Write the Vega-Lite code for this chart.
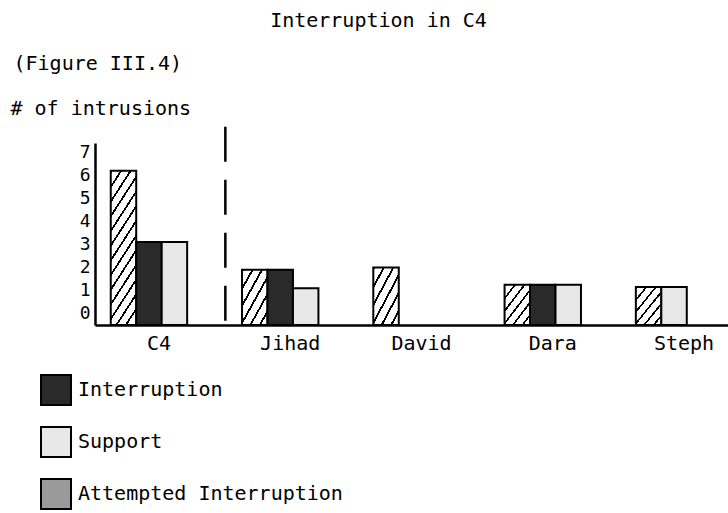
{
  "$schema": "https://vega.github.io/schema/vega-lite/v6.json",
  "width": 633,
  "height": 182,
  "autosize": {"type": "none"},
  "padding": {"left": 95, "top": 143, "right": 0, "bottom": 188},
  "background": "white",
  "title": {"text": "Interruption in C4", "anchor": "middle", "frame": "group", "dx": -33, "offset": 22, "font": "DejaVu Sans Mono", "fontSize": 20, "fontWeight": "normal", "color": "black"},
  "config": {"view": {"stroke": null}, "font": "DejaVu Sans Mono"},
  "layer": [
    {
      "data": {"values": [
        {"person": "C4", "type": "Attempted Interruption", "count": 6.2},
        {"person": "C4", "type": "Interruption", "count": 3.1},
        {"person": "C4", "type": "Support", "count": 3.1},
        {"person": "Jihad", "type": "Attempted Interruption", "count": 1.9},
        {"person": "Jihad", "type": "Interruption", "count": 1.9},
        {"person": "Jihad", "type": "Support", "count": 1.1},
        {"person": "David", "type": "Attempted Interruption", "count": 2.0},
        {"person": "Dara", "type": "Attempted Interruption", "count": 1.25},
        {"person": "Dara", "type": "Interruption", "count": 1.25},
        {"person": "Dara", "type": "Support", "count": 1.25},
        {"person": "Steph", "type": "Attempted Interruption", "count": 1.15},
        {"person": "Steph", "type": "Support", "count": 1.15}
      ]},
      "transform": [
        {"window": [{"op": "row_number", "as": "slot"}], "groupby": ["person"], "sort": [{"field": "type"}]}
      ],
      "mark": {"type": "bar", "stroke": "black", "strokeWidth": 2},
      "encoding": {
        "x": {
          "field": "person", "type": "nominal", "sort": null,
          "title": "(Figure III.4)",
          "scale": {"paddingInner": 0.418, "paddingOuter": 0.12},
          "axis": {"ticks": false, "labelAngle": 0, "domainWidth": 2.5, "domainColor": "black", "labelPadding": 8, "labelOffset": 10, "labelFont": "DejaVu Sans Mono", "labelFontSize": 20, "labelColor": "black", "titleX": -82, "titleY": -262, "titleAlign": "left", "titleBaseline": "middle", "titleAngle": 0, "titleFont": "DejaVu Sans Mono", "titleFontSize": 20, "titleFontWeight": "normal", "titleColor": "black"}
        },
        "xOffset": {"field": "slot", "type": "ordinal", "scale": {"domain": [1, 2, 3], "paddingInner": 0, "paddingOuter": 0}},
        "y": {
          "field": "count", "type": "quantitative",
          "title": "# of intrusions",
          "scale": {"domain": [-0.5, 7.4], "nice": false, "zero": false},
          "axis": {"values": [0, 1, 2, 3, 4, 5, 6, 7], "labelOverlap": false, "ticks": false, "grid": false, "domainColor": "black", "domainWidth": 2.5, "labelFont": "DejaVu Sans Mono", "labelFontSize": 18, "labelColor": "black", "labelPadding": 5, "titleAngle": 0, "titleAlign": "left", "titleBaseline": "middle", "titleX": -85, "titleY": -35, "titleFont": "DejaVu Sans Mono", "titleFontSize": 20, "titleFontWeight": "normal", "titleColor": "black"}
        },
        "y2": {"datum": -0.5},
        "fill": {
          "condition": [
            {"test": "datum.type === 'Attempted Interruption' && datum.count > 4", "value": {"gradient": "linear", "x1": 0, "y1": 0, "x2": 0.32, "y2": 1.25, "stops": [
              {"offset": 0, "color": "black"}, {"offset": 0.0157, "color": "black"}, {"offset": 0.0157, "color": "white"}, {"offset": 0.0714, "color": "white"},
              {"offset": 0.0714, "color": "black"}, {"offset": 0.0871, "color": "black"}, {"offset": 0.0871, "color": "white"}, {"offset": 0.1429, "color": "white"},
              {"offset": 0.1429, "color": "black"}, {"offset": 0.1586, "color": "black"}, {"offset": 0.1586, "color": "white"}, {"offset": 0.2143, "color": "white"},
              {"offset": 0.2143, "color": "black"}, {"offset": 0.23, "color": "black"}, {"offset": 0.23, "color": "white"}, {"offset": 0.2857, "color": "white"},
              {"offset": 0.2857, "color": "black"}, {"offset": 0.3014, "color": "black"}, {"offset": 0.3014, "color": "white"}, {"offset": 0.3571, "color": "white"},
              {"offset": 0.3571, "color": "black"}, {"offset": 0.3728, "color": "black"}, {"offset": 0.3728, "color": "white"}, {"offset": 0.4286, "color": "white"},
              {"offset": 0.4286, "color": "black"}, {"offset": 0.4443, "color": "black"}, {"offset": 0.4443, "color": "white"}, {"offset": 0.5, "color": "white"},
              {"offset": 0.5, "color": "black"}, {"offset": 0.5157, "color": "black"}, {"offset": 0.5157, "color": "white"}, {"offset": 0.5714, "color": "white"},
              {"offset": 0.5714, "color": "black"}, {"offset": 0.5871, "color": "black"}, {"offset": 0.5871, "color": "white"}, {"offset": 0.6429, "color": "white"},
              {"offset": 0.6429, "color": "black"}, {"offset": 0.6586, "color": "black"}, {"offset": 0.6586, "color": "white"}, {"offset": 0.7143, "color": "white"},
              {"offset": 0.7143, "color": "black"}, {"offset": 0.73, "color": "black"}, {"offset": 0.73, "color": "white"}, {"offset": 0.7857, "color": "white"},
              {"offset": 0.7857, "color": "black"}, {"offset": 0.8014, "color": "black"}, {"offset": 0.8014, "color": "white"}, {"offset": 0.8571, "color": "white"},
              {"offset": 0.8571, "color": "black"}, {"offset": 0.8728, "color": "black"}, {"offset": 0.8728, "color": "white"}, {"offset": 0.9286, "color": "white"},
              {"offset": 0.9286, "color": "black"}, {"offset": 0.9443, "color": "black"}, {"offset": 0.9443, "color": "white"}, {"offset": 1, "color": "white"}
            ]}},
            {"test": "datum.type === 'Attempted Interruption'", "value": {"gradient": "linear", "x1": 0, "y1": 0, "x2": 0.913, "y2": 1.1, "stops": [
              {"offset": 0, "color": "black"}, {"offset": 0.0367, "color": "black"}, {"offset": 0.0367, "color": "white"}, {"offset": 0.1667, "color": "white"},
              {"offset": 0.1667, "color": "black"}, {"offset": 0.2033, "color": "black"}, {"offset": 0.2033, "color": "white"}, {"offset": 0.3333, "color": "white"},
              {"offset": 0.3333, "color": "black"}, {"offset": 0.37, "color": "black"}, {"offset": 0.37, "color": "white"}, {"offset": 0.5, "color": "white"},
              {"offset": 0.5, "color": "black"}, {"offset": 0.5367, "color": "black"}, {"offset": 0.5367, "color": "white"}, {"offset": 0.6667, "color": "white"},
              {"offset": 0.6667, "color": "black"}, {"offset": 0.7033, "color": "black"}, {"offset": 0.7033, "color": "white"}, {"offset": 0.8333, "color": "white"},
              {"offset": 0.8333, "color": "black"}, {"offset": 0.87, "color": "black"}, {"offset": 0.87, "color": "white"}, {"offset": 1, "color": "white"}
            ]}}
          ],
          "field": "type", "type": "nominal",
          "scale": {"domain": ["Interruption", "Support", "Attempted Interruption"], "range": ["#2a2a2a", "#e8e8e8", "#9a9a9a"]},
          "legend": {
            "orient": "none", "legendX": -55, "legendY": 231, "title": null, "symbolType": "square", "symbolSize": 900, "symbolStrokeColor": "black", "symbolStrokeWidth": 2, "labelFont": "DejaVu Sans Mono", "labelFontSize": 20, "labelColor": "black", "labelLimit": 400, "rowPadding": 14, "labelOffset": 6
          }
        }
      }
    },
    {
      "data": {"values": [{}]},
      "mark": {"type": "rule", "strokeDash": [35, 18], "strokeWidth": 2.5, "color": "black"},
      "encoding": {
        "x": {"datum": "C4", "bandPosition": 1.5, "title": "(Figure III.4)"},
        "y": {"datum": 8.1, "title": "# of intrusions",
          "axis": {"values": [0, 1, 2, 3, 4, 5, 6, 7], "labelOverlap": false, "ticks": false, "grid": false, "domainColor": "black", "domainWidth": 2.5, "labelFont": "DejaVu Sans Mono", "labelFontSize": 18, "labelColor": "black", "labelPadding": 5, "titleAngle": 0, "titleAlign": "left", "titleBaseline": "middle", "titleX": -85, "titleY": -35, "titleFont": "DejaVu Sans Mono", "titleFontSize": 20, "titleFontWeight": "normal", "titleColor": "black"}},
        "y2": {"datum": -0.5}
      }
    }
  ]
}
